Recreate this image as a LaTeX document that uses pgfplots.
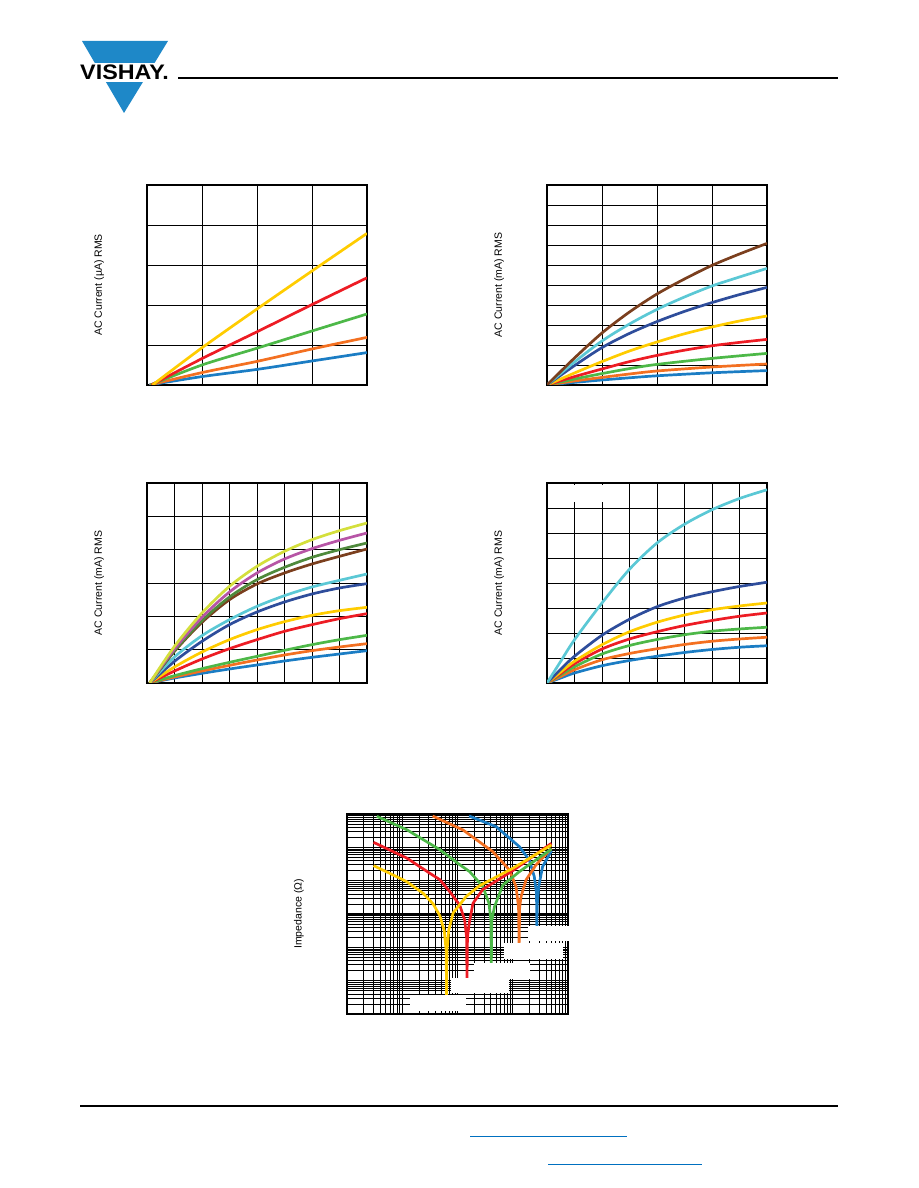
\documentclass[border=0pt]{standalone}
\usepackage{pgfplots}
\pgfplotsset{compat=1.18}
\usepackage{fontspec}
\setmainfont{Liberation Sans}
\definecolor{cyel}{HTML}{FFCC00}
\definecolor{cred}{HTML}{ED1C24}
\definecolor{cgrn}{HTML}{4DB848}
\definecolor{corg}{HTML}{F37021}
\definecolor{cblu}{HTML}{1B7DC4}
\definecolor{cnav}{HTML}{2E4D9B}
\definecolor{ccya}{HTML}{5BC8D5}
\definecolor{cbrn}{HTML}{7B3F1E}
\definecolor{clim}{HTML}{D4DF3C}
\definecolor{cmag}{HTML}{B755A6}
\definecolor{coli}{HTML}{4F8A3C}
\definecolor{vblue}{HTML}{1E88C8}
\definecolor{lblue}{HTML}{0070C0}
\pgfplotsset{
  base/.style={scale only axis, anchor=south west,
    axis line style={line width=2.6pt},
    xticklabels={}, yticklabels={},
    major tick length=0pt, minor tick length=0pt, tick style={draw=none},
    every axis y label/.style={at={(axis description cs:-0.218,0.5)}, rotate=90, anchor=center, font=\fontsize{10.5}{12}\selectfont},
    every axis plot/.append style={line width=2.7pt, no markers, line join=round},
  },
  lin/.style={base, width=220pt, height=200pt, grid=major, grid style={black, line width=0.9pt},
    every axis plot/.append style={smooth}},
}
\begin{document}
\begin{tikzpicture}[x=1pt,y=1pt]
\useasboundingbox (0,0) rectangle (918,1188);
% header
\fill[vblue] (82,1147) -- (168,1147) -- (124,1075) -- cycle;
\fill[white] (75,1106.3) rectangle (175,1124.7);
\node[anchor=base west, inner sep=0pt, xscale=1.11, font=\fontsize{21}{21}\bfseries\selectfont] at (80,1108.7) {VISHAY.};
\draw[line width=2pt] (178,1109.5) -- (838,1109.5);
% footer
\draw[line width=2pt] (80,82) -- (838,82);
\draw[lblue, line width=1pt] (470,51) -- (627,51);
\draw[lblue, line width=1pt] (548,23) -- (702,23);

% Chart 1
\begin{axis}[lin, at={(147pt,803pt)}, xmin=0, xmax=4, ymin=0, ymax=5, xtick={0,...,4}, ytick={0,...,5}, ylabel={AC Current (µA) RMS}]
\addplot[cblu] coordinates {(0.04,0) (1,0.21) (2,0.39) (3,0.6) (4,0.81)};
\addplot[corg] coordinates {(0.05,0) (1,0.31) (2,0.59) (3,0.9) (4,1.19)};
\addplot[cgrn] coordinates {(0.06,0) (1,0.5) (2,0.92) (3,1.35) (4,1.775)};
\addplot[cred] coordinates {(0.08,0) (1,0.66) (2,1.33) (3,2.01) (4,2.68)};
\addplot[cyel] coordinates {(0.1,0) (1,0.93) (2,1.9) (3,2.85) (4,3.79)};
\end{axis}

% Chart 2
\begin{axis}[lin, at={(547pt,803pt)}, xmin=0, xmax=4, ymin=0, ymax=10, xtick={0,...,4}, ytick={0,...,10}, ylabel={AC Current (mA) RMS}]
\addplot[cblu] coordinates {(0,0) (0.5,0.13) (1,0.25) (1.5,0.36) (2,0.46) (3,0.61) (4,0.72)};
\addplot[corg] coordinates {(0,0) (0.5,0.2) (1,0.38) (1.5,0.55) (2,0.7) (3,0.9) (4,1.05)};
\addplot[cgrn] coordinates {(0,0) (0.5,0.3) (1,0.57) (1.5,0.82) (2,1.03) (3,1.33) (4,1.58)};
\addplot[cred] coordinates {(0,0) (0.5,0.42) (1,0.8) (1.5,1.17) (2,1.48) (2.5,1.74) (3,1.96) (3.5,2.13) (4,2.28)};
\addplot[cyel] coordinates {(0,0) (0.5,0.6) (1,1.17) (1.5,1.7) (2,2.15) (2.5,2.56) (3,2.9) (3.5,3.2) (4,3.45)};
\addplot[cnav] coordinates {(0,0) (0.5,0.97) (1,1.87) (1.5,2.58) (2,3.17) (2.5,3.68) (3,4.12) (3.5,4.52) (4,4.88)};
\addplot[ccya] coordinates {(0,0) (0.5,1.15) (1,2.2) (1.5,3.05) (2,3.78) (2.5,4.4) (3,4.95) (3.5,5.4) (4,5.83)};
\addplot[cbrn] coordinates {(0,0) (0.5,1.35) (1,2.6) (1.5,3.65) (2,4.55) (2.5,5.3) (3,5.98) (3.5,6.55) (4,7.08)};
\end{axis}

% Chart 3
\begin{axis}[lin, at={(147pt,505pt)}, xmin=0, xmax=8, ymin=0, ymax=6, xtick={0,...,8}, ytick={0,...,6}, ylabel={AC Current (mA) RMS}]
\addplot[cblu] coordinates {(0.1,0) (1,0.15) (2,0.29) (3,0.42) (4,0.54) (5,0.66) (6,0.77) (7,0.87) (8,0.97)};
\addplot[corg] coordinates {(0.1,0) (1,0.18) (2,0.36) (3,0.53) (4,0.69) (5,0.84) (6,0.97) (7,1.08) (8,1.18)};
\addplot[cgrn] coordinates {(0.1,0) (1,0.22) (2,0.43) (3,0.62) (4,0.8) (5,0.98) (6,1.15) (7,1.3) (8,1.43)};
\addplot[cred] coordinates {(0.1,0) (1,0.36) (2,0.72) (3,1.03) (4,1.3) (5,1.55) (6,1.75) (7,1.93) (8,2.08)};
\addplot[cyel] coordinates {(0.1,0) (1,0.48) (2,0.93) (3,1.3) (4,1.6) (5,1.84) (6,2.03) (7,2.17) (8,2.27)};
\addplot[cnav] coordinates {(0.1,0) (1,0.65) (2,1.25) (3,1.75) (4,2.13) (5,2.43) (6,2.67) (7,2.85) (8,2.98)};
\addplot[ccya] coordinates {(0.1,0) (1,0.78) (2,1.42) (3,1.9) (4,2.3) (5,2.62) (6,2.88) (7,3.08) (8,3.27)};
\addplot[cbrn] coordinates {(0.1,0) (1,0.95) (2,1.82) (3,2.5) (4,2.97) (5,3.3) (6,3.57) (7,3.8) (8,4.02)};
\addplot[coli] coordinates {(0.1,0) (1,0.97) (2,1.87) (3,2.58) (4,3.1) (5,3.47) (6,3.77) (7,4.0) (8,4.2)};
\addplot[cmag] coordinates {(0.1,0) (1,1.02) (2,1.97) (3,2.73) (4,3.3) (5,3.72) (6,4.03) (7,4.28) (8,4.5)};
\addplot[clim] coordinates {(0.1,0) (1,1.1) (2,2.1) (3,2.9) (4,3.5) (5,3.95) (6,4.3) (7,4.57) (8,4.8)};
\end{axis}

% Chart 4
\begin{axis}[lin, at={(547pt,505pt)}, xmin=0, xmax=8, ymin=0, ymax=8, xtick={0,...,8}, ytick={0,...,8}, ylabel={AC Current (mA) RMS}]
\addplot[cblu] coordinates {(0,0) (0.5,0.2) (1,0.4) (2,0.69) (3,0.9) (4,1.07) (5,1.22) (6,1.34) (7,1.43) (8,1.49)};
\addplot[corg] coordinates {(0,0) (0.5,0.26) (1,0.53) (2,0.93) (3,1.18) (4,1.37) (5,1.54) (6,1.67) (7,1.76) (8,1.83)};
\addplot[cgrn] coordinates {(0,0) (0.5,0.33) (1,0.65) (2,1.16) (3,1.5) (4,1.74) (5,1.93) (6,2.07) (7,2.16) (8,2.23)};
\addplot[cred] coordinates {(0,0) (0.5,0.38) (1,0.77) (2,1.36) (3,1.76) (4,2.05) (5,2.3) (6,2.5) (7,2.67) (8,2.8)};
\addplot[cyel] coordinates {(0,0) (0.5,0.44) (1,0.87) (2,1.53) (3,2.05) (4,2.43) (5,2.72) (6,2.93) (7,3.08) (8,3.2)};
\addplot[cnav] coordinates {(0,0) (0.5,0.55) (1,1.07) (2,1.91) (3,2.55) (4,3.05) (5,3.4) (6,3.65) (7,3.86) (8,4.03)};
\addplot[ccya] coordinates {(0,0) (0.5,0.87) (1,1.73) (2,3.2) (3,4.55) (4,5.6) (5,6.35) (6,6.93) (7,7.38) (8,7.73)};
\end{axis}
\fill[white] (550,686.3) rectangle (627,702.5);

% Chart 5
\begin{axis}[base, width=221pt, height=200pt, at={(347pt,174pt)},
  xmode=log, ymode=log, xmin=1, xmax=1e4, ymin=1, ymax=1e6,
  xtick={1,10,100,1000,10000}, ytick={1,10,100,1000,10000,100000,1000000},
  minor xtick={2,3,4,5,6,7,8,9,20,30,40,50,60,70,80,90,200,300,400,500,600,700,800,900,2000,3000,4000,5000,6000,7000,8000,9000},
  minor ytick={2,3,4,5,6,7,8,9,20,30,40,50,60,70,80,90,200,300,400,500,600,700,800,900,2000,3000,4000,5000,6000,7000,8000,9000,2e4,3e4,4e4,5e4,6e4,7e4,8e4,9e4,2e5,3e5,4e5,5e5,6e5,7e5,8e5,9e5},
  grid=both, major grid style={black, line width=1.2pt}, minor grid style={black, line width=0.6pt},
  ylabel={Impedance (Ω)}]
\addplot[cblu] coordinates {(162.2,870964) (501.2,416869) (1318,104713) (1995,41687) (2455,13183) (2692,4169) (2735,354.8) (2786,1995) (2951,6607) (3467,26303) (5012,79433)};
\addplot[corg] coordinates {(35.48,870964) (125.9,331131) (436.5,74131) (871.0,20893) (1148,6607) (1274,1585) (1303,112.2) (1334,1585) (1413,3311) (1738,10471) (2630,29512) (5012,93325)};
\addplot[cgrn] coordinates {(3.467,851138) (12.02,338844) (47.86,85114) (109.6,30200) (166.0,18621) (288.4,6607) (371.5,2089) (402.7,631) (409.3,28.18) (416.9,631) (467.7,1660) (660.7,7413) (1318,18621) (5012,89125)};
\addplot[cred] coordinates {(3.020,141254) (7.943,66069) (12.02,47863) (31.62,16596) (47.86,10715) (72.44,4677) (109.6,1862) (134.9,660.7) (146.2,199.5) (148.6,10) (151.4,199.5) (162.2,501.2) (190.5,2089) (288.4,5495) (1000,19953) (5012,131826)};
\addplot[cyel] coordinates {(3.020,28184) (6.310,15849) (12.02,9333) (23.99,4169) (36.31,1995) (47.86,891.3) (57.54,316.2) (62.37,79.43) (63.39,3.162) (64.57,79.43) (69.18,316.2) (83.18,1072) (144.5,3388) (251.2,7079) (1000,23442) (5012,117490)};
\end{axis}
\fill[white] (410,177) rectangle (466,193);
\fill[white] (450.7,195) rectangle (509.3,209.7);
\fill[white] (474,209) rectangle (530,225.3);
\fill[white] (504,228.7) rectangle (562.7,244.7);
\fill[white] (528.3,247.3) rectangle (570.5,262);
\end{tikzpicture}
\end{document}
